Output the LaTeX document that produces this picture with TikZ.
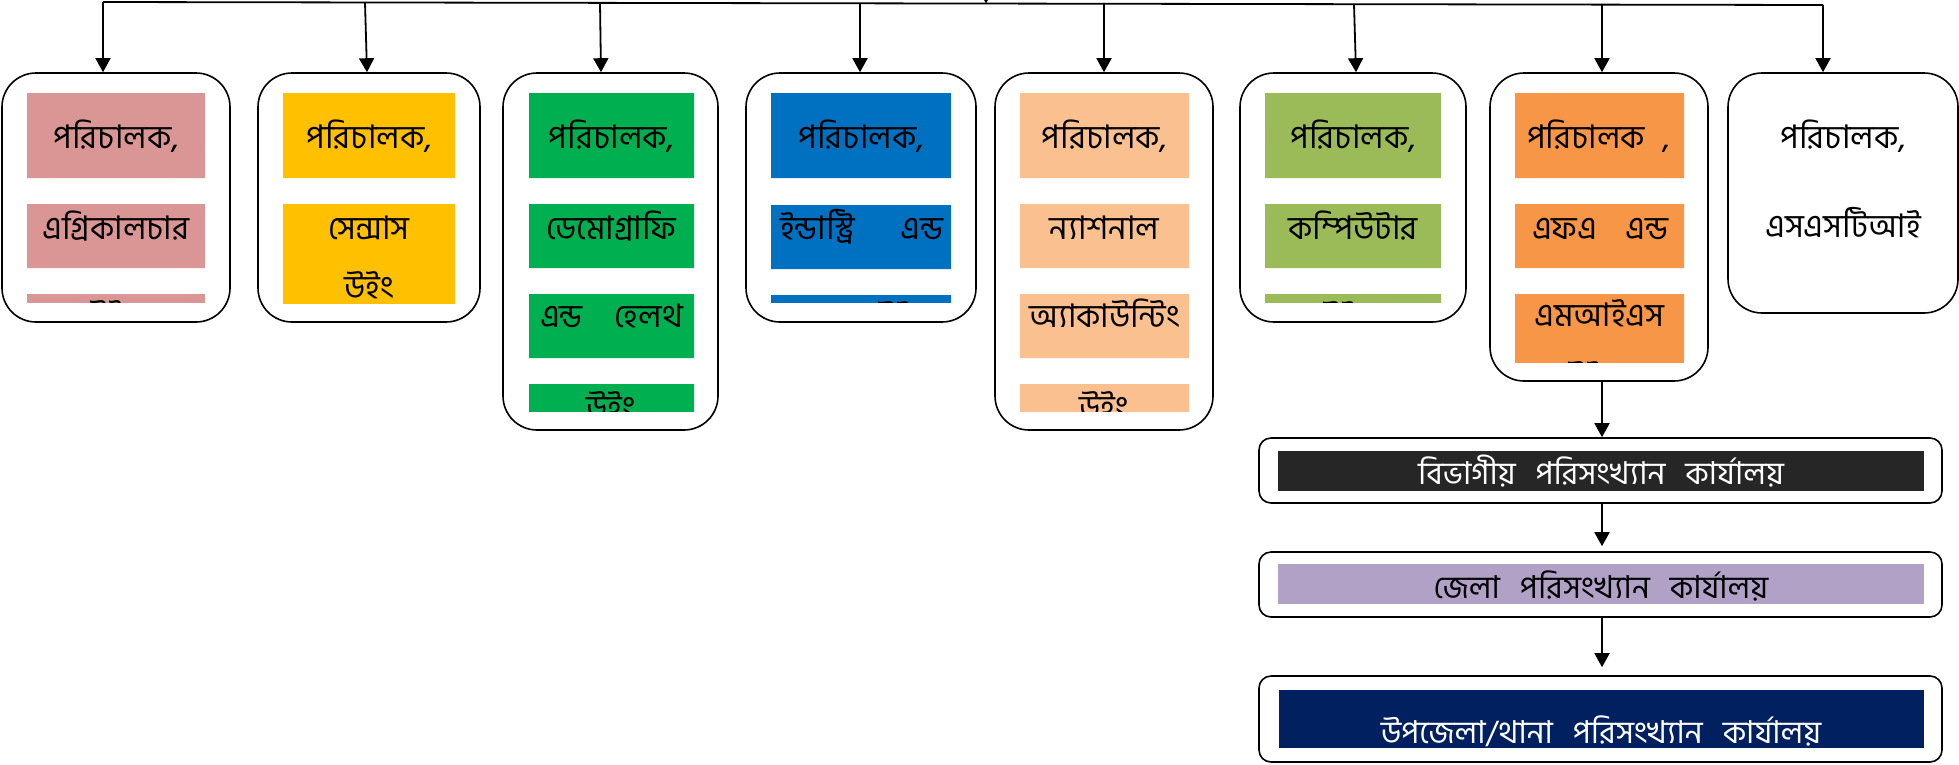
\documentclass[tikz,border=0pt]{standalone}
\usepackage{fontspec}
\newfontfamily\bnfont[Script=Bengali]{Hind Siliguri}
\usetikzlibrary{arrows.meta}
\definecolor{pinkc}{HTML}{D99694}
\definecolor{goldc}{HTML}{FFC000}
\definecolor{greenc}{HTML}{00B050}
\definecolor{bluec}{HTML}{0070C0}
\definecolor{peachc}{HTML}{FAC090}
\definecolor{olivec}{HTML}{9BBB59}
\definecolor{orangec}{HTML}{F79646}
\definecolor{darkc}{HTML}{262626}
\definecolor{lilacc}{HTML}{B2A1C7}
\definecolor{navyc}{HTML}{002060}
\tikzset{
  wing/.style={draw, line width=1.6pt, rounded corners=34pt, inner sep=0pt},
  office/.style={draw, line width=1.6pt, rounded corners=12pt, inner sep=0pt, minimum width=683pt},
  arr/.style={line width=1.8pt, -{Triangle[length=14pt,width=15pt]}},
  lbl/.style={font=\bnfont\fontsize{32.5}{38}\selectfont, anchor=base, inner sep=0pt},
  olbl/.style={font=\bnfont\fontsize{31.5}{36}\selectfont, anchor=base, inner sep=0pt},
}
\begin{document}
\begin{tikzpicture}[x=1pt,y=-1pt]
\useasboundingbox (0,0) rectangle (1959,764);
% wings
\node[wing, minimum width=228pt, minimum height=249pt] (b1) at (116,197.5) {};
\node[wing, minimum width=222pt, minimum height=249pt] (b2) at (369,197.5) {};
\node[wing, minimum width=215pt, minimum height=357pt] (b3) at (610.5,251.5) {};
\node[wing, minimum width=230pt, minimum height=249pt] (b4) at (861,197.5) {};
\node[wing, minimum width=218pt, minimum height=357pt] (b5) at (1104,251.5) {};
\node[wing, minimum width=226pt, minimum height=249pt] (b6) at (1353,197.5) {};
\node[wing, minimum width=218pt, minimum height=308pt] (b7) at (1599,227) {};
\node[wing, minimum width=230pt, minimum height=240pt] (b8) at (1843,193) {};
% offices
\node[office, minimum height=65pt] (div) at (1600.5,470.5) {};
\node[office, minimum height=65pt] (dist) at (1600.5,584.5) {};
\node[office, minimum height=86pt] (upz) at (1600.5,719) {};

\begin{scope}
  \clip (b1.north west) rectangle ([yshift=20pt]b1.south east);
  \fill[pinkc] (27,93) rectangle (205,178) (27,204) rectangle (205,268) (27,294) rectangle (205,358);
  \node[lbl] (b1a) at (116,148) {পরিচালক,};
  \node[lbl] (b1b) at (116,239) {এগ্রিকালচার};
  \node[lbl] (b1c) at (112,327) {উইং};
\end{scope}
\begin{scope}
  \clip (b2.north west) rectangle ([yshift=19pt]b2.south east);
  \fill[goldc] (283,93) rectangle (455,178) (283,204) rectangle (455,330);
  \node[lbl] (b2a) at (369,148) {পরিচালক,};
  \node[lbl] (b2b) at (369,239) {সেন্সাস};
  \node[lbl] (b2c) at (369,298) {উইং};
\end{scope}
\begin{scope}
  \clip (b3.north west) rectangle ([yshift=19pt]b3.south east);
  \fill[greenc] (529,93) rectangle (694,178) (529,204) rectangle (694,268) (529,294) rectangle (694,358) (529,384) rectangle (694,448);
  \node[lbl] (b3a) at (611.5,148) {পরিচালক,};
  \node[lbl] (b3b) at (611.5,239) {ডেমোগ্রাফি};
  \node[lbl] (b3c) at (611.5,327) {\makebox[143pt][s]{এন্ড\hfill হেলথ}};
  \node[lbl] (b3d) at (611.5,418) {উইং};
\end{scope}
\begin{scope}
  \clip (b4.north west) rectangle ([yshift=20pt]b4.south east);
  \fill[bluec] (771,93) rectangle (951,178) (771,205) rectangle (951,269) (771,295) rectangle (951,359);
  \node[lbl] (b4a) at (861,148) {পরিচালক,};
  \node[lbl] (b4b) at (861.5,239) {\makebox[163pt][s]{ইন্ডাস্ট্রি\hfill এন্ড}};
  \node[lbl] (b4c) at (900,328) {উইং};
\end{scope}
\begin{scope}
  \clip (b5.north west) rectangle ([yshift=19pt]b5.south east);
  \fill[peachc] (1020,93) rectangle (1189,178) (1020,204) rectangle (1189,268) (1020,294) rectangle (1189,358) (1020,384) rectangle (1189,448);
  \node[lbl] (b5a) at (1104.5,148) {পরিচালক,};
  \node[lbl] (b5b) at (1104.5,239) {ন্যাশনাল};
  \node[lbl] (b5c) at (1104.5,327) {অ্যাকাউন্টিং};
  \node[lbl] (b5d) at (1104.5,418) {উইং};
\end{scope}
\begin{scope}
  \clip (b6.north west) rectangle ([yshift=20pt]b6.south east);
  \fill[olivec] (1265,93) rectangle (1441,178) (1265,204) rectangle (1441,268) (1265,294) rectangle (1441,358);
  \node[lbl] (b6a) at (1353,148) {পরিচালক,};
  \node[lbl] (b6b) at (1353,239) {কম্পিউটার};
  \node[lbl] (b6c) at (1345,328) {উইং};
\end{scope}
\begin{scope}
  \clip (b7.north west) rectangle ([yshift=19pt]b7.south east);
  \fill[orangec] (1515,93) rectangle (1684,178) (1515,204) rectangle (1684,268) (1515,294) rectangle (1684,420);
  \node[lbl] (b7a) at (1598.5,148) {\makebox[143pt][s]{পরিচালক\hfill,}};
  \node[lbl] (b7b) at (1600,239) {\makebox[136pt][s]{এফএ\hfill এন্ড}};
  \node[lbl] (b7c) at (1599.5,326) {এমআইএস};
  \node[lbl] (b7d) at (1590,388) {উইং};
\end{scope}
\node[lbl] (b8a) at (1843,148) {পরিচালক,};
\node[lbl] (b8b) at (1843,237) {এসএসটিআই};

\fill[darkc] (1278,451) rectangle (1924,491);
\fill[lilacc] (1278,564) rectangle (1924,604);
\fill[navyc] (1279,690) rectangle (1924,748);
\node[olbl, text=white] (divt) at (1601,484) {বিভাগীয়\hspace{20pt}পরিসংখ্যান\hspace{20pt}কার্যালয়};
\node[olbl] (distt) at (1601,598) {জেলা\hspace{20pt}পরিসংখ্যান\hspace{20pt}কার্যালয়};
\node[olbl, text=white] (upzt) at (1601,743) {উপজেলা/থানা\hspace{20pt}পরিসংখ্যান\hspace{20pt}কার্যালয়};

% top line
\coordinate (tl) at (103,2);
\coordinate (tr) at (1823,5);
\coordinate (up) at (986,-20);
\coordinate (upend) at (986,3.5);
\draw[line width=1.8pt] (tl) -- (tr);
\draw[arr] (up) -- (upend);
\coordinate (t1) at (103,2);
\coordinate (t2) at (365,2.5);
\coordinate (t3) at (600,2.9);
\coordinate (t4) at (860,3.3);
\coordinate (t5) at (1104,3.7);
\coordinate (t6) at (1354,4.2);
\coordinate (t7) at (1602,4.6);
\coordinate (t8) at (1823,5);
\draw[arr] (t1) -- (t1 |- b1.north);
\draw[arr] (t2) -- ([xshift=2pt]t2 |- b2.north);
\draw[arr] (t3) -- ([xshift=1pt]t3 |- b3.north);
\draw[arr] (t4) -- (t4 |- b4.north);
\draw[arr] (t5) -- (t5 |- b5.north);
\draw[arr] (t6) -- ([xshift=2pt]t6 |- b6.north);
\draw[arr] (t7) -- (t7 |- b7.north);
\draw[arr] (t8) -- (t8 |- b8.north);

\draw[arr] (t7 |- b7.south) -- (t7 |- div.north);
\draw[arr, shorten >=5pt] (t7 |- div.south) -- (t7 |- dist.north);
\draw[arr, shorten >=8pt] (t7 |- dist.south) -- (t7 |- upz.north);
\end{tikzpicture}
\end{document}
